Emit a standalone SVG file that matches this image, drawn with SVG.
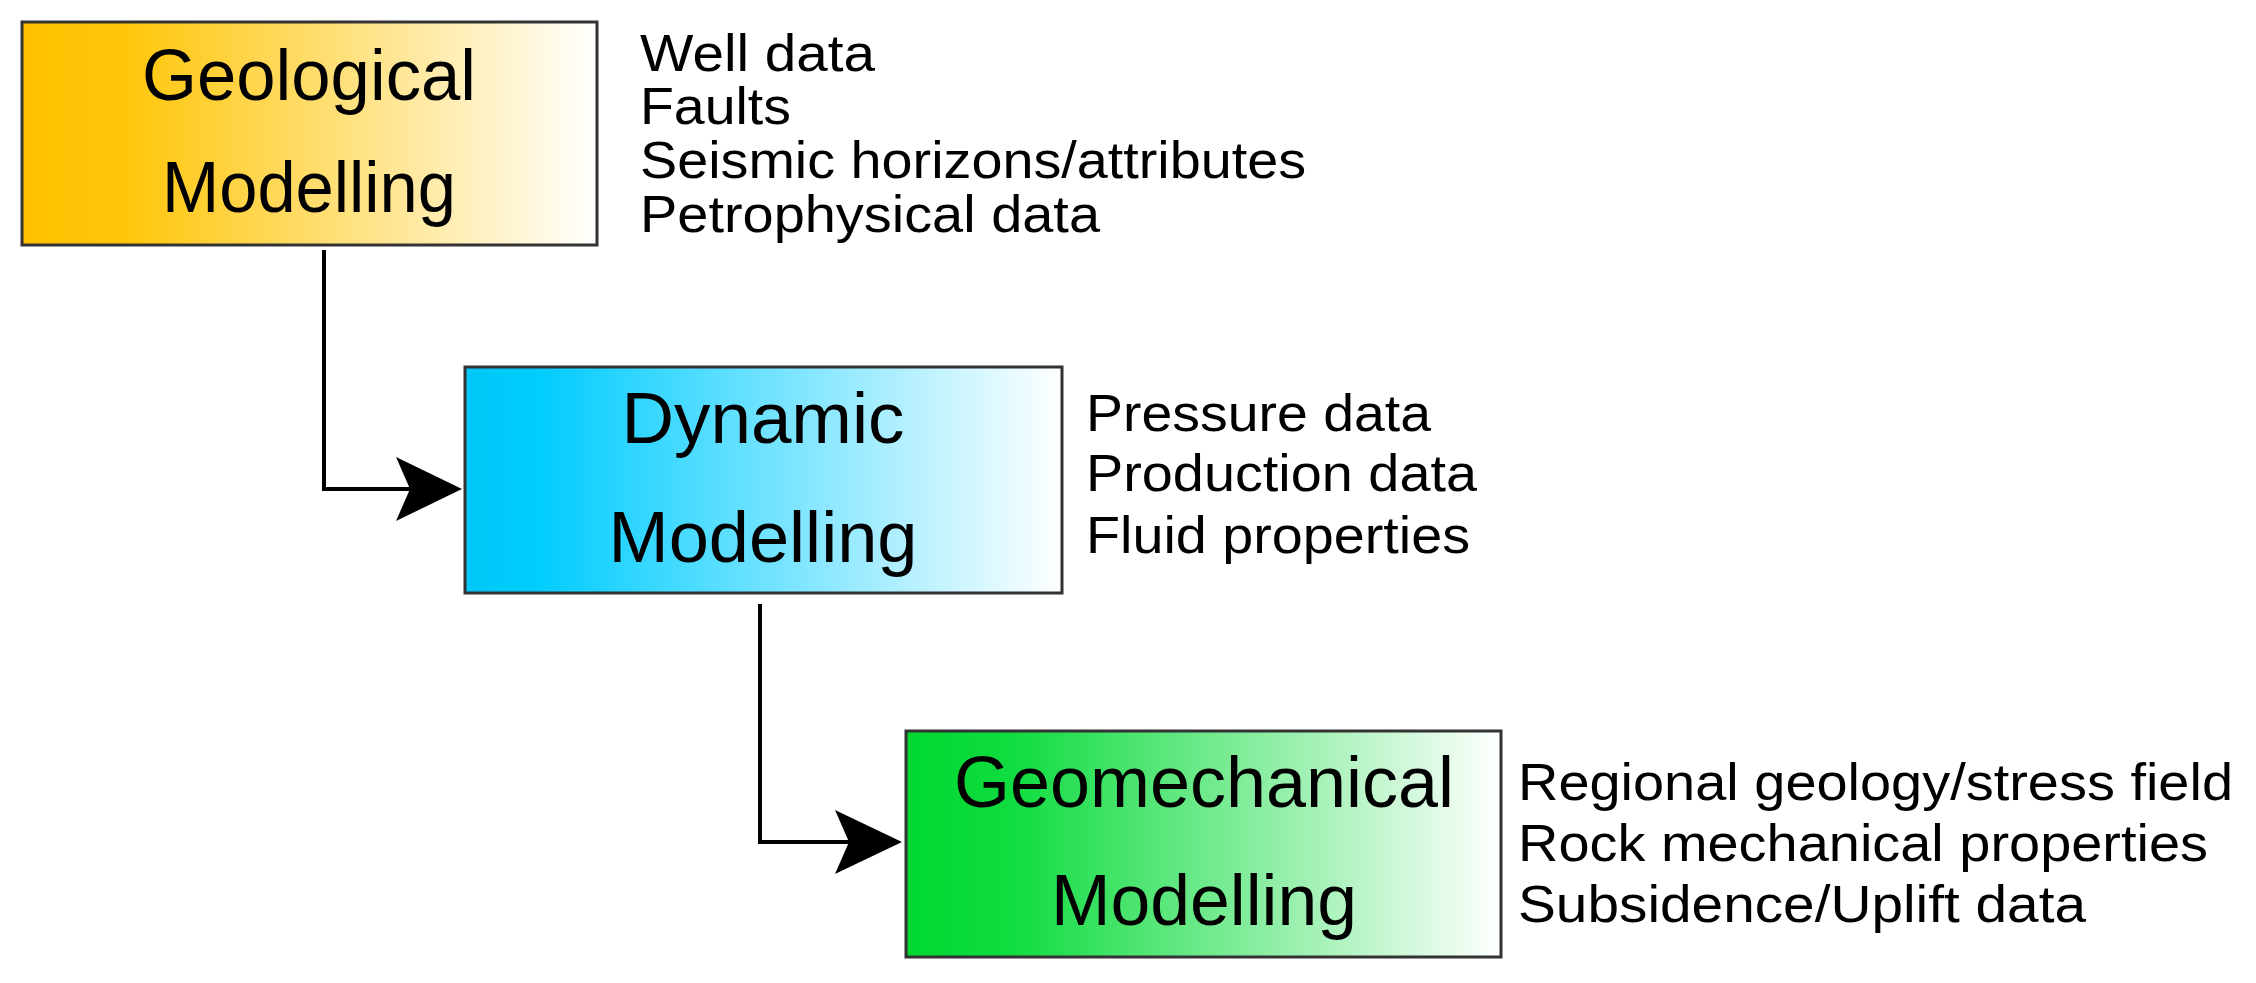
<svg xmlns="http://www.w3.org/2000/svg" width="2256" height="983" viewBox="0 0 2256 983">
<defs>
<linearGradient id="gO" x1="0" x2="1" y1="0" y2="0"><stop offset="0" stop-color="#FFC000"/><stop offset="0.18" stop-color="#FFC60A"/><stop offset="1" stop-color="#FFFFFF"/></linearGradient>
<linearGradient id="gB" x1="0" x2="1" y1="0" y2="0"><stop offset="0" stop-color="#00C8F8"/><stop offset="0.12" stop-color="#00CCFF"/><stop offset="1" stop-color="#FFFFFF"/></linearGradient>
<linearGradient id="gG" x1="0" x2="1" y1="0" y2="0"><stop offset="0" stop-color="#00D830"/><stop offset="0.18" stop-color="#10DC40"/><stop offset="1" stop-color="#FFFFFF"/></linearGradient>
</defs>
<style>
.box{stroke:#333;stroke-width:3}
.t{font-family:"Liberation Sans",Arial,sans-serif;font-size:72px;fill:#000;text-anchor:middle}
.l{font-family:"Liberation Sans",Arial,sans-serif;font-size:52px;fill:#000}
.c{fill:none;stroke:#000;stroke-width:4}
</style>
<rect width="2256" height="983" fill="#fff"/>
<g id="geological">
<rect class="box" x="22" y="22" width="575" height="223" fill="url(#gO)"/>
<text class="t" x="309" y="100" textLength="334" lengthAdjust="spacingAndGlyphs">Geological</text>
<text class="t" x="309" y="212" textLength="294" lengthAdjust="spacingAndGlyphs">Modelling</text>
<text class="l" x="640" y="71" textLength="235" lengthAdjust="spacingAndGlyphs">Well data</text>
<text class="l" x="640" y="124" textLength="151" lengthAdjust="spacingAndGlyphs">Faults</text>
<text class="l" x="640" y="178" textLength="666" lengthAdjust="spacingAndGlyphs">Seismic horizons/attributes</text>
<text class="l" x="640" y="232" textLength="460" lengthAdjust="spacingAndGlyphs">Petrophysical data</text>
</g>
<g id="dynamic">
<rect class="box" x="465" y="367" width="597" height="226" fill="url(#gB)"/>
<text class="t" x="763" y="443" textLength="283" lengthAdjust="spacingAndGlyphs">Dynamic</text>
<text class="t" x="763" y="562" textLength="309" lengthAdjust="spacingAndGlyphs">Modelling</text>
<text class="l" x="1086" y="431" textLength="345" lengthAdjust="spacingAndGlyphs">Pressure data</text>
<text class="l" x="1086" y="491" textLength="391" lengthAdjust="spacingAndGlyphs">Production data</text>
<text class="l" x="1086" y="553" textLength="384" lengthAdjust="spacingAndGlyphs">Fluid properties</text>
</g>
<g id="geomechanical">
<rect class="box" x="906" y="731" width="595" height="226" fill="url(#gG)"/>
<text class="t" x="1204" y="807" textLength="500" lengthAdjust="spacingAndGlyphs">Geomechanical</text>
<text class="t" x="1204" y="925" textLength="306" lengthAdjust="spacingAndGlyphs">Modelling</text>
<text class="l" x="1518" y="800" textLength="715" lengthAdjust="spacingAndGlyphs">Regional geology/stress field</text>
<text class="l" x="1518" y="861" textLength="690" lengthAdjust="spacingAndGlyphs">Rock mechanical properties</text>
<text class="l" x="1518" y="922" textLength="568" lengthAdjust="spacingAndGlyphs">Subsidence/Uplift data</text>
</g>
<g id="connectors">
<path class="c" d="M324,250 V489 H440"/>
<path d="M396,457 L462,489 L396,521 L410,489 Z" fill="#000"/>
<path class="c" d="M760,604 V842 H880"/>
<path d="M835,810 L902,842 L835,874 L849,842 Z" fill="#000"/>
</g>
</svg>
